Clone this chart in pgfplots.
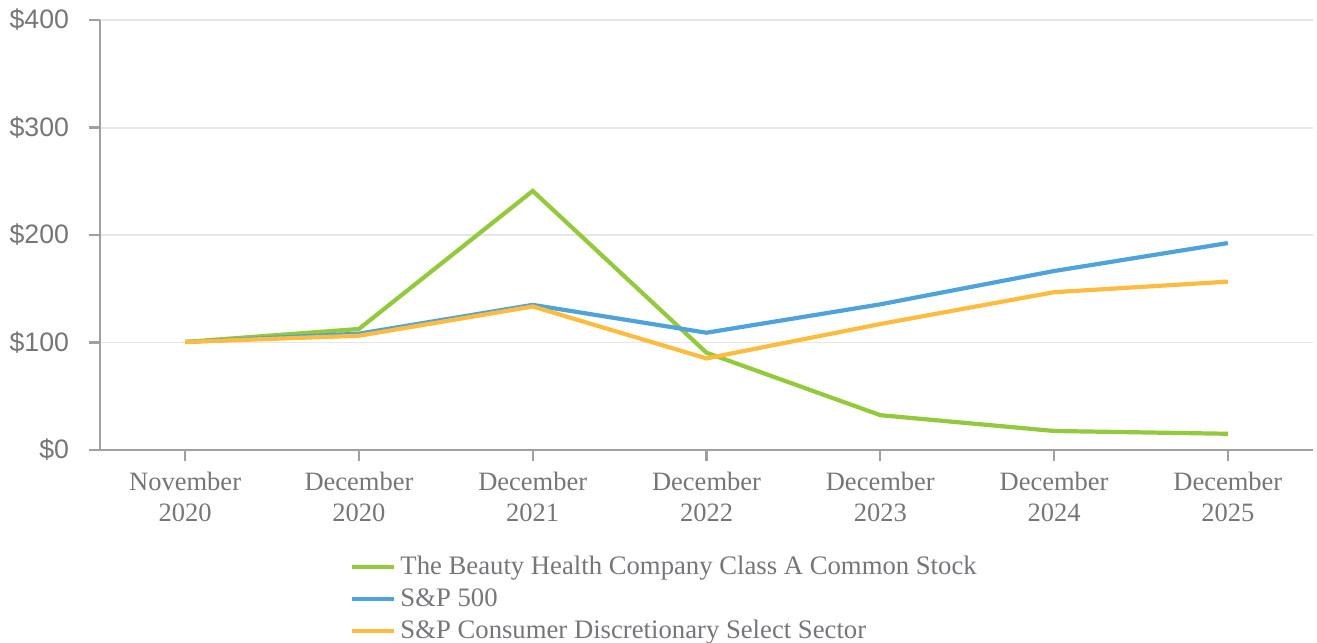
\documentclass[border=0pt]{standalone}
\usepackage{fontspec}
\setmainfont{Liberation Serif}
\newfontfamily\arialfont{Liberation Sans}
\usepackage{pgfplots}
\pgfplotsset{compat=1.18}
\definecolor{cgreen}{HTML}{94C83D}
\definecolor{cblue}{HTML}{4EA3DA}
\definecolor{corange}{HTML}{FDBC40}
\definecolor{axisgray}{HTML}{A0A0A4}
\definecolor{gridgray}{HTML}{E6E6E6}
\definecolor{txtgray}{HTML}{76767A}
\begin{document}
\begin{tikzpicture}
\begin{axis}[
  at={(0,0)}, anchor=south west,
  scale only axis,
  width=606.5bp, height=215bp,
  xmin=-0.49, xmax=6.49,
  ymin=0, ymax=400,
  axis lines*=left,
  axis line style={axisgray, line width=1.2pt},
  xtick={0,1,2,3,4,5,6},
  xticklabels={November\\2020,December\\2020,December\\2021,December\\2022,December\\2023,December\\2024,December\\2025},
  xticklabel style={align=center, font=\fontsize{13.3}{15.5}\selectfont, text=txtgray, yshift=-2bp},
  ytick={0,100,200,300,400},
  yticklabels={\$0,\$100,\$200,\$300,\$400},
  yticklabel style={font=\arialfont\fontsize{13.4}{15}\selectfont, text=txtgray, xshift=-6.5bp},
  tick align=outside,
  major tick length=5.5bp,
  tick style={axisgray, line width=1.2pt},
  ymajorgrids,
  grid style={gridgray, line width=1pt},
  legend cell align=left,
  legend style={at={(0.206,-0.237)}, anchor=north west, draw=none, fill=none,
    font=\fontsize{13.4}{15}\selectfont, text=txtgray, row sep=1.4bp,
    inner sep=0pt},
  legend image code/.code={\draw[#1] (0bp,0bp) -- (21bp,0bp);},
  clip=false,
]
\addplot[cgreen, line width=2.1bp] coordinates {(0,100.5) (1,112.6) (2,241) (3,90.5) (4,32.4) (5,17.7) (6,15.1)};
\addlegendentry{The Beauty Health Company Class A Common Stock}
\addplot[cblue, line width=2.1bp] coordinates {(0,100.5) (1,108.2) (2,135) (3,109.1) (4,135.5) (5,166.5) (6,192.5)};
\addlegendentry{S\&P 500}
\addplot[corange, line width=2.1bp] coordinates {(0,100.5) (1,106.3) (2,133.5) (3,85.2) (4,117.2) (5,146.8) (6,156.6)};
\addlegendentry{S\&P Consumer Discretionary Select Sector}
\end{axis}
\pgfresetboundingbox
\path (-50bp,-96.5bp) rectangle (608.5bp,225bp);
\end{tikzpicture}
\end{document}
